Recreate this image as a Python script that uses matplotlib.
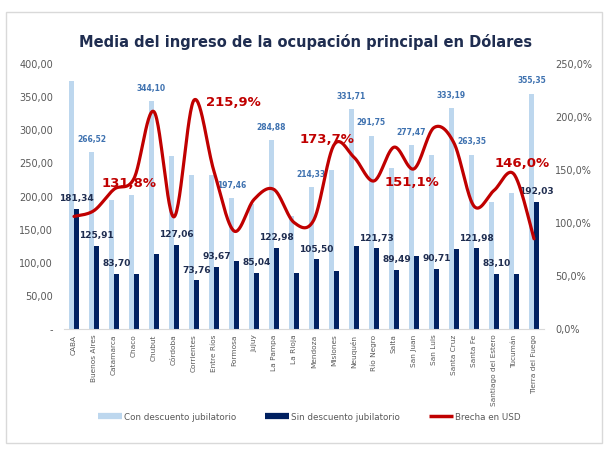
import numpy as np
import matplotlib
matplotlib.use("Agg")
import matplotlib.pyplot as plt
from matplotlib.lines import Line2D
from matplotlib.patches import Rectangle

plt.rcParams['font.family'] = ['DejaVu Sans']

provincias = ["CABA", "Buenos Aires", "Catamarca", "Chaco", "Chubut", "Córdoba",
              "Corrientes", "Entre Ríos", "Formosa", "Jujuy", "La Pampa", "La Rioja",
              "Mendoza", "Misiones", "Neuquén", "Río Negro", "Salta", "San Juan",
              "San Luis", "Santa Cruz", "Santa Fe", "Santiago del Estero", "Tucumán",
              "Tierra del Fuego"]

con_descuento = [375.0, 266.52, 194.0, 203.0, 344.10, 261.5, 233.0, 233.0, 197.46,
                 189.0, 284.88, 171.0, 214.33, 240.0, 331.71, 291.75, 243.0, 277.47,
                 263.0, 333.19, 263.35, 191.7, 205.0, 355.35]

sin_descuento = [181.34, 125.91, 83.70, 83.7, 113.0, 127.06, 73.76, 93.67, 102.6,
                 85.04, 122.98, 85.2, 105.50, 87.7, 126.0, 121.73, 89.49, 110.5,
                 90.71, 121.0, 121.98, 83.10, 83.3, 192.03]

brecha = [106.2, 111.7, 131.8, 142.0, 205.0, 105.8, 215.9, 148.7, 92.5, 122.2,
          131.6, 100.5, 103.2, 173.7, 162.0, 139.7, 171.5, 151.1, 190.0, 175.4,
          115.9, 130.7, 146.0, 85.1]

con_labels = {1, 4, 8, 10, 12, 14, 15, 17, 19, 20, 23}
sin_labels = {0, 1, 2, 5, 6, 7, 9, 10, 12, 15, 16, 18, 20, 21, 23}
brecha_labels = {2: (11, 4.5), 6: (28, -1.5), 13: (-5, 3.6), 17: (-1.5, -10), 22: (6, 8)}

LIGHT = "#bdd7ee"
DARK = "#002060"
RED = "#c00000"
GRAY = "#595959"

fig = plt.figure(figsize=(6.09, 4.49), dpi=100)
ax = fig.add_axes([64/609, 1-329/449, 480/609, 265/449])
ax2 = ax.twinx()

x = np.arange(len(provincias))
w = 0.24
ax.bar(x - 0.13, con_descuento, width=w, color=LIGHT, zorder=2)
ax.bar(x + 0.13, sin_descuento, width=w, color=DARK, zorder=2)

for i in x:
    if i in con_labels:
        ax.annotate(f"{con_descuento[i]:.2f}".replace(".", ","), (i - 0.13, con_descuento[i]),
                    xytext=(0, 6), textcoords="offset points", ha="center", va="bottom",
                    fontsize=5.5, fontweight="bold", color="#3f72b0")
    if i in sin_labels:
        ax.annotate(f"{sin_descuento[i]:.2f}".replace(".", ","), (i + 0.13, sin_descuento[i]),
                    xytext=(0, 4), textcoords="offset points", ha="center", va="bottom",
                    fontsize=6.5, fontweight="bold", color="#1f2d50")

# smooth (Catmull-Rom / Bezier) line like Excel's smoothed line
P = np.column_stack([x.astype(float), np.array(brecha, dtype=float)])
Pext = np.vstack([P[0], P, P[-1]])
xs, ys = [], []
t = np.linspace(0, 1, 30)
for k in range(len(P) - 1):
    p0, p1, p2, p3 = Pext[k], Pext[k+1], Pext[k+2], Pext[k+3]
    c1 = p1 + (p2 - p0) / 6
    c2 = p2 - (p3 - p1) / 6
    b = ((1-t)**3)[:, None]*p1 + (3*(1-t)**2*t)[:, None]*c1 + (3*(1-t)*t**2)[:, None]*c2 + (t**3)[:, None]*p2
    xs.extend(b[:, 0]); ys.extend(b[:, 1])
ax2.plot(xs, ys, color=RED, lw=2.3, zorder=3, solid_capstyle="round")

for i, (dx, dy) in brecha_labels.items():
    ax2.annotate(f"{brecha[i]:.1f}%".replace(".", ","), (i, brecha[i]), xytext=(dx, dy),
                 textcoords="offset points", ha="center", va="center",
                 fontsize=9.5, fontweight="bold", color=RED)

ax.set_xlim(-0.5, len(provincias) - 0.5)
ax.set_ylim(0, 400)
ax2.set_ylim(0, 250)
ax.set_yticks(np.arange(0, 401, 50))
ax.set_yticklabels(["-"] + [f"{v:.2f}".replace(".", ",") for v in np.arange(50, 401, 50)])
ax2.set_yticks(np.arange(0, 251, 50))
ax2.set_yticklabels([f"{v:.1f}%".replace(".", ",") for v in np.arange(0, 251, 50)])
ax.set_xticks(x)
ax.set_xticklabels(provincias, rotation=90, fontsize=5.3, color=GRAY)

for a in (ax, ax2):
    for s in ("top", "left", "right"):
        a.spines[s].set_visible(False)
    a.spines["bottom"].set_color("#d9d9d9")
ax.tick_params(axis="y", length=0, labelsize=7, labelcolor=GRAY, pad=8)
ax2.tick_params(axis="y", length=0, labelsize=7, labelcolor=GRAY, pad=8)
ax.tick_params(axis="x", length=0, pad=4)
ax2.spines["bottom"].set_visible(False)

fig.text(0.502, 1-42/449, "Media del ingreso de la ocupación principal en Dólares",
         ha="center", va="center", fontsize=10.5, fontweight="bold", color="#1f2d50")

handles = [Line2D([], [], color=LIGHT, lw=4.5, solid_capstyle="butt"),
           Line2D([], [], color=DARK, lw=4.5, solid_capstyle="butt"),
           Line2D([], [], color=RED, lw=2.5, solid_capstyle="butt")]
fig.legend(handles, ["Con descuento jubilatorio", "Sin descuento jubilatorio", "Brecha en USD"],
           loc="center", bbox_to_anchor=(0.508, 1-417/449), ncol=3, frameon=False,
           fontsize=6.3, labelcolor=GRAY, handlelength=2.7, handletextpad=0.25,
           columnspacing=3.3)

fig.add_artist(Rectangle((6/609, 1-443/449), 596/609, 431/449, transform=fig.transFigure,
                         fill=False, edgecolor="#d9d9d9", lw=1))

fig.savefig("out.png", dpi=100)
